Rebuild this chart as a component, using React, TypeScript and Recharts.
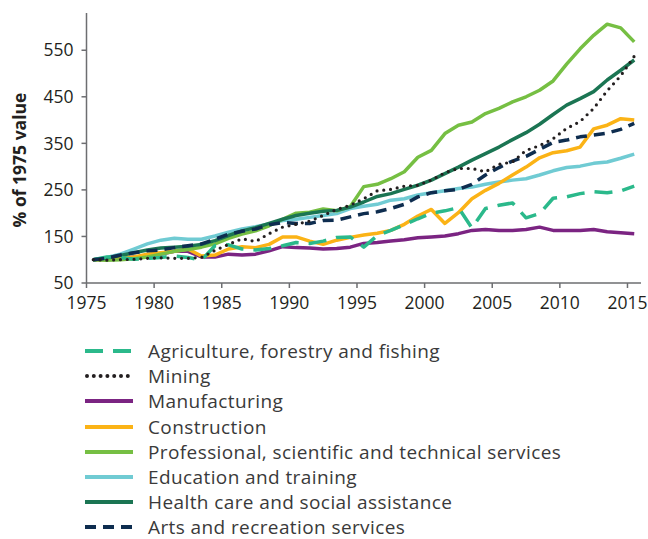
import React from "react";
import { LineChart, Line, XAxis, YAxis } from "recharts";

// financial years, plotted at mid-year (1975-76 -> 1975.5)
const years = [
  1975, 1976, 1977, 1978, 1979, 1980, 1981, 1982, 1983, 1984,
  1985, 1986, 1987, 1988, 1989, 1990, 1991, 1992, 1993, 1994,
  1995, 1996, 1997, 1998, 1999, 2000, 2001, 2002, 2003, 2004,
  2005, 2006, 2007, 2008, 2009, 2010, 2011, 2012, 2013, 2014,
  2015,
];

const agriculture = [
  100, 106, 105, 101, 103, 105, 108, 105, 99, 130,
  132, 123, 121, 124, 130, 137, 135, 140, 148, 149,
  127, 152, 163, 175, 188, 200, 205, 212, 168, 210,
  217, 222, 190, 199, 232, 235, 242, 246, 244, 248,
  258,
];
const mining = [
  100, 99, 100, 101, 103, 104, 103, 103, 105, 120,
  133, 145, 139, 156, 170, 176, 183, 195, 208, 217,
  231, 248, 251, 258, 260, 271, 287, 296, 296, 289,
  305, 310, 335, 345, 360, 382, 397, 425, 463, 495,
  537,
];
const manufacturing = [
  100, 101, 103, 106, 106, 112, 118, 118, 106, 106,
  112, 110, 112, 119, 128, 126, 125, 123, 124, 127,
  135, 137, 140, 143, 147, 149, 151, 156, 163, 165,
  163, 163, 165, 170, 163, 163, 163, 165, 160, 158,
  156,
];
const construction = [
  100, 101, 105, 106, 112, 115, 118, 123, 108, 110,
  123, 128, 126, 133, 149, 149, 140, 133, 142, 148,
  153, 157, 163, 176, 194, 208, 178, 201, 231, 249,
  264, 282, 299, 319, 330, 334, 342, 381, 389, 403,
  400,
];
const professional = [
  100, 99, 100, 102, 106, 112, 118, 122, 127, 134,
  146, 155, 162, 173, 187, 200, 202, 209, 205, 214,
  257, 262, 274, 289, 320, 335, 371, 389, 396, 414,
  425, 439, 450, 464, 484, 520, 553, 582, 606, 598,
  568,
];
const education = [
  100, 105, 112, 123, 134, 142, 146, 144, 144, 151,
  159, 166, 171, 177, 184, 187, 191, 195, 199, 210,
  215, 219, 228, 231, 239, 244, 248, 253, 256, 262,
  267, 271, 274, 282, 291, 298, 301, 307, 310, 318,
  327,
];
const health = [
  100, 104, 109, 115, 121, 125, 127, 129, 133, 141,
  152, 162, 169, 178, 187, 195, 200, 204, 206, 213,
  224, 236, 242, 251, 260, 271, 285, 299, 314, 328,
  342, 358, 373, 391, 412, 432, 446, 461, 486, 507,
  529,
];
const arts = [
  100, 103, 110, 115, 119, 121, 126, 130, 134, 144,
  155, 161, 166, 175, 180, 178, 178, 184, 185, 192,
  199, 203, 210, 219, 235, 244, 248, 251, 262, 282,
  298, 312, 322, 337, 352, 357, 364, 368, 372, 380,
  393,
];

const xTicks = [1975, 1980, 1985, 1990, 1995, 2000, 2005, 2010, 2015];
const yTicks = [50, 150, 250, 350, 450, 550];

const series = [
  { key: "agriculture", name: "Agriculture, forestry and fishing", values: agriculture, color: "#2bb98b", dash: "18 10", cap: "butt" },
  { key: "mining", name: "Mining", values: mining, color: "#231f20", dash: "0 6.8", cap: "round" },
  { key: "manufacturing", name: "Manufacturing", values: manufacturing, color: "#7b2482" },
  { key: "construction", name: "Construction", values: construction, color: "#fbb316" },
  { key: "professional", name: "Professional, scientific and technical services", values: professional, color: "#76bf43" },
  { key: "education", name: "Education and training", values: education, color: "#70cbd3" },
  { key: "health", name: "Health care and social assistance", values: health, color: "#1b7553" },
  { key: "arts", name: "Arts and recreation services", values: arts, color: "#0e2d4f", dash: "11 7", cap: "butt" },
];

// mining dots sit on top
const drawOrder = ["education", "manufacturing", "construction", "professional", "health", "agriculture", "arts", "mining"];

const data = years.map((y, i) => {
  const row: Record<string, number> = { x: y + 0.5 };
  series.forEach((s) => (row[s.key] = s.values[i]));
  return row;
});

const FONT = "'Open Sans', sans-serif";
const AXIS = "#6d6e71";
const TEXT = "#231f20";

function YLabel({ viewBox }: any) {
  const cx = 18;
  const cy = viewBox.y + viewBox.height / 2 + 12;
  return (
    <text
      x={cx}
      y={cy}
      transform={`rotate(-90, ${cx}, ${cy})`}
      textAnchor="middle"
      fontFamily={FONT}
      fontSize={17.5}
      fontWeight={700}
      fill={TEXT}
    >
      % of 1975 value
    </text>
  );
}

function LegendBlock() {
  return (
    <div style={{ marginTop: 30, fontFamily: FONT, fontSize: 19, letterSpacing: 0.4, color: "#3a3a3a" }}>
      {series.map((s, i) => (
        <div
          key={s.key}
          style={{
            display: "flex",
            alignItems: "center",
            height: 16,
            marginBottom: i < series.length - 1 ? 9.2 : 0,
          }}
        >
          <svg width={48} height={10} style={{ marginLeft: 77, marginRight: 15, flexShrink: 0 }}>
            <line
              x1={s.cap === "round" ? 2 : 0}
              x2={48}
              y1={5}
              y2={5}
              stroke={s.color}
              strokeWidth={4}
              strokeDasharray={s.dash}
              strokeLinecap={(s.cap as any) ?? "butt"}
            />
          </svg>
          <span style={{ whiteSpace: "nowrap", lineHeight: "16px" }}>{s.name}</span>
        </div>
      ))}
    </div>
  );
}

export default function App() {
  return (
    <div style={{ width: 640, padding: "8px 0 0 8px" }}>
      <style>{"html { overflow: hidden; } body { margin: 0; }"}</style>
      <LineChart
        width={640}
        height={305}
        data={data}
        margin={{ top: 5, right: 7, bottom: 0, left: 0 }}
      >
        <XAxis
          dataKey="x"
          type="number"
          domain={[1975, 2016]}
          ticks={xTicks}
          allowDataOverflow
          height={30}
          tickSize={5}
          tickMargin={9}
          stroke={AXIS}
          strokeWidth={1.5}
          tick={{ fill: TEXT, fontSize: 17.5, fontFamily: FONT }}
        />
        <YAxis
          type="number"
          domain={[50, 630]}
          ticks={yTicks}
          allowDataOverflow
          width={78.5}
          tickSize={5}
          tickMargin={8}
          stroke={AXIS}
          strokeWidth={1.5}
          tick={{ fill: TEXT, fontSize: 17.5, fontFamily: FONT }}
          label={<YLabel />}
        />
        {drawOrder.map((k) => {
          const s = series.find((d) => d.key === k)!;
          return (
            <Line
              key={s.key}
              type="linear"
              dataKey={s.key}
              name={s.name}
              stroke={s.color}
              strokeWidth={s.key === "mining" ? 3.2 : 3.5}
              strokeDasharray={s.dash}
              strokeLinecap={(s.cap as any) ?? "butt"}
              strokeLinejoin="round"
              dot={false}
              activeDot={false}
              isAnimationActive={false}
            />
          );
        })}
      </LineChart>
      <LegendBlock />
    </div>
  );
}
